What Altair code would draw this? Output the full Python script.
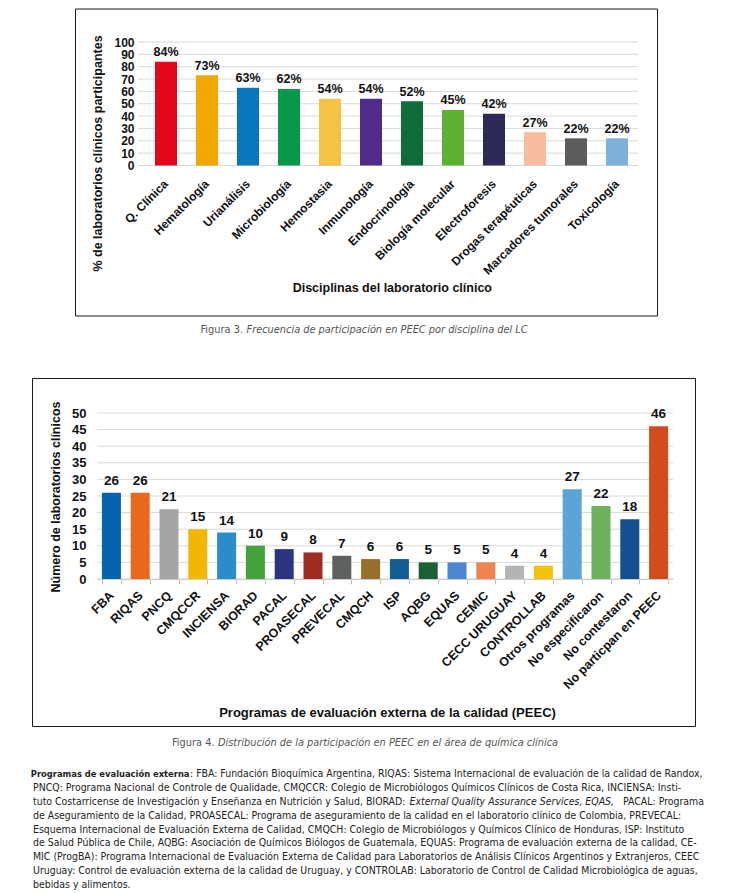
import altair as alt
import pandas as pd

# ---------------- data ----------------
disciplinas = ["Q. Clínica", "Hematología", "Urianálisis", "Microbiología", "Hemostasia",
               "Inmunología", "Endocrinología", "Biología molecular", "Electroforesis",
               "Drogas terapéuticas", "Marcadores tumorales", "Toxicología"]
porcentajes = [84, 73, 63, 62, 54, 54, 52, 45, 42, 27, 22, 22]
colores1 = ["#e2061a", "#f0a800", "#0a77bd", "#07984a", "#f4c343", "#502d8a",
            "#0f6d3c", "#5cb130", "#2d2a59", "#f7bda0", "#5b5c5e", "#7db2dc"]
ticks1 = [0, 10, 20, 30, 40, 50, 60, 70, 80, 90, 100]

programas = ["FBA", "RIQAS", "PNCQ", "CMQCCR", "INCIENSA", "BIORAD", "PACAL", "PROASECAL",
             "PREVECAL", "CMQCH", "ISP", "AQBG", "EQUAS", "CEMIC", "CECC URUGUAY",
             "CONTROLLAB", "Otros programas", "No especificaron", "No contestaron",
             "No particpan en PEEC"]
laboratorios = [26, 26, 21, 15, 14, 10, 9, 8, 7, 6, 6, 5, 5, 5, 4, 4, 27, 22, 18, 46]
colores2 = ["#0563af", "#e8691e", "#a5a5a5", "#f2b705", "#2a8ccb", "#41a339", "#2b357f",
            "#9e2c23", "#5e6162", "#986e2b", "#135d94", "#1d6036", "#4c87d3", "#ef8451",
            "#b4b4b4", "#f4c20a", "#5ba4d5", "#6cb25a", "#12508f", "#d14c1d"]
ticks2 = [0, 5, 10, 15, 20, 25, 30, 35, 40, 45, 50]

caption3 = ["Figura 3.", "Frecuencia de participación en PEEC por disciplina del LC"]
caption4 = ["Figura 4.", "Distribución de la participación en PEEC en el área de química clínica"]

nota_lineas = [
    [("bold", "Programas de evaluación externa"), ("regular", ": FBA: Fundación Bioquímica Argentina, RIQAS: Sistema Internacional de evaluación de la calidad de Randox,")],
    [("regular", "PNCQ: Programa Nacional de Controle de Qualidade, CMQCCR: Colegio de  Microbiólogos Químicos Clínicos de Costa Rica, INCIENSA: Insti-")],
    [("regular", "tuto Costarricense de Investigación y Enseñanza en Nutrición y Salud, BIORAD: "), ("italic", "External Quality Assurance Services, EQAS,"), ("regular_r", " PACAL: Programa")],
    [("regular", "de Aseguramiento de la Calidad, PROASECAL: Programa de aseguramiento de la calidad en el laboratorio clínico de Colombia, PREVECAL:")],
    [("regular", "Esquema Internacional de Evaluación Externa de Calidad, CMQCH: Colegio de Microbiólogos y Químicos Clínico de Honduras, ISP: Instituto")],
    [("regular", "de Salud Pública de Chile, AQBG: Asociación de Químicos Biólogos de Guatemala, EQUAS: Programa de evaluación externa de la calidad, CE-")],
    [("regular", "MIC (ProgBA): Programa Internacional de Evaluación Externa de Calidad para Laboratorios de Análisis Clínicos Argentinos y Extranjeros, CEEC")],
    [("regular", "Uruguay: Control de evaluación externa de la calidad de Uruguay, y CONTROLAB: Laboratorio de Control de Calidad Microbiológica de aguas,")],
    [("regular", "bebidas y alimentos.")],
]

FONT = "Liberation Sans"
NFONT = "DejaVu Sans Condensed, Liberation Sans"
one = alt.Data(values=[{}])

# ================= chart 1 (origin at page x=138, y=41.5) =================
df1 = pd.DataFrame({"disciplina": disciplinas, "pct": porcentajes, "color": colores1})
df1["etiqueta"] = df1["pct"].astype(str) + "%"

x1 = alt.X("disciplina:N", sort=disciplinas,
           scale=alt.Scale(paddingInner=0.463, paddingOuter=0.329, align=0.63),
           axis=alt.Axis(title="Disciplinas del laboratorio clínico", labelAngle=315,
                         labelAlign="right", labelBaseline="middle", labelPadding=16,
                         labelFont=FONT, labelFontWeight="bold", labelFontSize=12,
                         labelColor="#111", labelOverlap=False, labelLimit=300,
                         ticks=False, domain=False,
                         titleFont=FONT, titleFontWeight="bold", titleFontSize=12.5,
                         titleColor="#111", titleX=253.8, titleY=121.7,
                         titleBaseline="middle", titleAlign="center"))
axis_y1 = alt.Axis(values=ticks1, title="% de laboratorios clínicos participantes",
                   grid=False, domain=False, ticks=False, labelOverlap=False,
                   labelPadding=4, labelFont=FONT, labelFontWeight="bold",
                   labelFontSize=12, labelColor="#111",
                   titleFont=FONT, titleFontWeight="bold", titleFontSize=12.5,
                   titleColor="#111", titleAngle=270, titleX=-41, titleY=111,
                   titleAlign="center", titleBaseline="middle")
scale_y1 = alt.Scale(domain=[0, 100], nice=False)
y1 = alt.Y("pct:Q", scale=scale_y1, axis=axis_y1)

grid1 = alt.Chart(pd.DataFrame({"pct": ticks1})).mark_rule(color="#d9d9d9", strokeWidth=1).encode(
    y=y1, x=alt.value(0), x2=alt.value(500))
base1 = alt.Chart(df1).encode(x=x1, y=y1)
bars1 = base1.mark_bar().encode(color=alt.Color("color:N", scale=None))
text1 = base1.mark_text(font=FONT, fontWeight="bold", fontSize=12.5, baseline="alphabetic",
                        dy=-5.5, color="#111").encode(text="etiqueta:N")
bounds1 = alt.Chart(one).mark_rect(opacity=0).encode(
    x=alt.value(-130), x2=alt.value(584), y=alt.value(-33.5), y2=alt.value(300))
frame1 = alt.Chart(one).mark_rect(fillOpacity=0, stroke="#1a1a1a", strokeWidth=1).encode(
    x=alt.value(-62.5), x2=alt.value(519.5), y=alt.value(-33), y2=alt.value(274))
cap3a = alt.Chart(one).mark_text(text=caption3[0], font=NFONT, fontSize=10.9, color="#555",
                                 align="right", baseline="middle").encode(
    x=alt.value(105), y=alt.value(287.5))
cap3b = alt.Chart(one).mark_text(text=caption3[1], font=NFONT, fontSize=10.9, color="#555",
                                 fontStyle="italic", align="left", baseline="middle").encode(
    x=alt.value(108.5), y=alt.value(287.5))
chart1 = alt.layer(grid1, bars1, text1, bounds1, frame1, cap3a, cap3b).properties(
    width=500, height=123.5)

# ================= chart 2 (origin at page x=138, y=412) =================
df2 = pd.DataFrame({"programa": programas, "n": laboratorios, "color": colores2})

x2 = alt.X("programa:N", sort=programas,
           scale=alt.Scale(range=[-41, 535], paddingInner=0.34, paddingOuter=0.17),
           axis=alt.Axis(title="Programas de evaluación externa de la calidad (PEEC)",
                         labelAngle=315, labelAlign="right", labelBaseline="middle",
                         labelPadding=9, labelFont=FONT, labelFontWeight="bold",
                         labelFontSize=12.5, labelColor="#111", labelOverlap=False,
                         labelLimit=300, ticks=True, tickBand="extent", tickSize=5,
                         tickColor="#bfbfbf", domain=True, domainColor="#bfbfbf",
                         titleFont=FONT, titleFontWeight="bold", titleFontSize=13,
                         titleColor="#111", titleX=249, titleY=133,
                         titleBaseline="middle", titleAlign="center"))
axis_y2 = alt.Axis(values=ticks2, title="Número de laboratorios clínicos", offset=41,
                   grid=False, domain=False, ticks=False, labelOverlap=False,
                   labelPadding=11, labelFont=FONT, labelFontWeight="bold",
                   labelFontSize=13, labelColor="#111",
                   titleFont=FONT, titleFontWeight="bold", titleFontSize=12.5,
                   titleColor="#111", titleAngle=270, titleX=-41.3, titleY=83.5,
                   titleAlign="center", titleBaseline="middle")
scale_y2 = alt.Scale(domain=[0, 50], nice=False)
y2 = alt.Y("n:Q", scale=scale_y2, axis=axis_y2)

grid2 = alt.Chart(pd.DataFrame({"n": ticks2})).mark_rule(color="#d9d9d9", strokeWidth=1).encode(
    y=y2, x=alt.value(-41), x2=alt.value(535))
base2 = alt.Chart(df2).encode(x=x2, y=y2)
bars2 = base2.mark_bar().encode(color=alt.Color("color:N", scale=None))
text2 = base2.mark_text(font=FONT, fontWeight="bold", fontSize=13.5, baseline="alphabetic",
                        dy=-8, color="#111").encode(text="n:Q")
frame2 = alt.Chart(one).mark_rect(fillOpacity=0, stroke="#1a1a1a", strokeWidth=1).encode(
    x=alt.value(-105.5), x2=alt.value(557.5), y=alt.value(-34.5), y2=alt.value(313.5))
cap4a = alt.Chart(one).mark_text(text=caption4[0], font=NFONT, fontSize=10.9, color="#555",
                                 align="right", baseline="middle").encode(
    x=alt.value(76.5), y=alt.value(330))
cap4b = alt.Chart(one).mark_text(text=caption4[1], font=NFONT, fontSize=10.9, color="#555",
                                 fontStyle="italic", align="left", baseline="middle").encode(
    x=alt.value(80), y=alt.value(330))

# footnote text, one text mark per styled segment
nota_layers = []
for i, segs in enumerate(nota_lineas):
    py = 360.7 + 13.95 * i
    for estilo, texto in segs:
        kw = dict(font=NFONT, fontSize=10.45, color="#222", baseline="middle")
        if estilo == "bold":
            kw.update(fontWeight="bold", fontSize=9.3, align="right")
            px = 51.5
        elif estilo == "italic":
            kw.update(fontStyle="italic", align="left")
            px = 271.5
        elif estilo == "regular_r":
            kw.update(align="right")
            px = 566
        else:
            kw.update(align="left")
            px = 52 if i == 0 else -105
        nota_layers.append(alt.Chart(one).mark_text(text=texto, **kw).encode(
            x=alt.value(px), y=alt.value(py)))

chart2 = alt.layer(grid2, bars2, text2, frame2, cap4a, cap4b, *nota_layers).properties(
    width=535, height=166)

chart = alt.vconcat(chart1, chart2, spacing=247, bounds="flush").properties(
    padding=0, background="white"
).configure_view(strokeWidth=0)

chart.save("out.html", embed_options={"renderer": "svg", "actions": False})
